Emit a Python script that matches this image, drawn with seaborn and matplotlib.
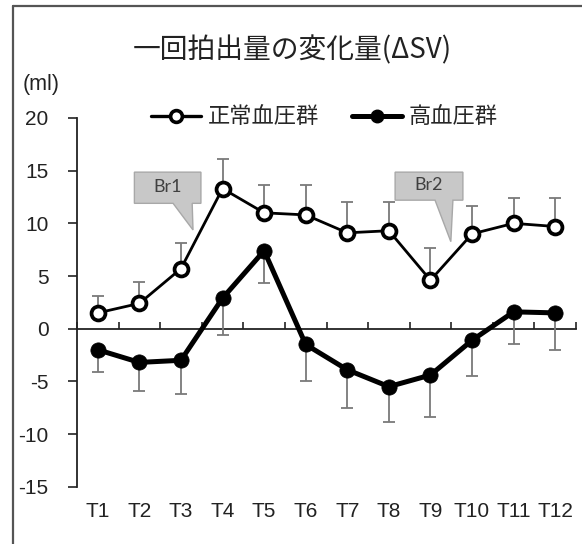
import numpy as np
import pandas as pd
import seaborn as sns
import matplotlib
matplotlib.use("Agg")
import matplotlib.pyplot as plt
from matplotlib.patches import Polygon
from matplotlib.lines import Line2D

# ---- data ----
categories = ['T1', 'T2', 'T3', 'T4', 'T5', 'T6', 'T7', 'T8', 'T9', 'T10', 'T11', 'T12']
normal_mean = [1.5, 2.4, 5.7, 13.3, 11.0, 10.8, 9.1, 9.3, 4.6, 9.0, 10.0, 9.7]
normal_sd = [1.6, 2.0, 2.4, 2.8, 2.6, 2.8, 2.9, 2.7, 3.1, 2.6, 2.4, 2.7]
high_mean = [-2.0, -3.2, -3.0, 2.9, 7.4, -1.5, -3.9, -5.5, -4.4, -1.1, 1.6, 1.5]
high_sd = [2.1, 2.7, 3.2, 3.5, 3.1, 3.5, 3.6, 3.4, 4.0, 3.4, 3.1, 3.5]
group_names = ['正常血圧群', '高血圧群']
y_ticks = [20, 15, 10, 5, 0, -5, -10, -15]
title = '一回拍出量の変化量(ΔSV)'
unit_label = '(ml)'
callout_labels = ['Br1', 'Br2']

sns.set_theme(style='white')
plt.rcParams['font.family'] = ['Liberation Sans', 'Noto Sans CJK JP', 'DejaVu Sans']
CJK = ['Noto Sans CJK JP', 'DejaVu Sans']

pos = np.arange(len(categories))
df = pd.DataFrame({
    'pos': np.concatenate([pos, pos]),
    'value': normal_mean + high_mean,
    'group': [group_names[0]] * len(pos) + [group_names[1]] * len(pos),
})

fig = plt.figure(figsize=(5.82, 5.44), dpi=100)
ax = fig.add_axes([0.1323, 0.1053, 0.8574, 0.6778])

err_color = '#7a7a7a'
# error bars (normal: upward only; hypertensive: downward only)
ax.errorbar(pos, normal_mean, yerr=[np.zeros(len(pos)), normal_sd], fmt='none',
            ecolor=err_color, elinewidth=1.3, capsize=4.5, capthick=1.3, zorder=2)
ax.errorbar(pos, high_mean, yerr=[high_sd, np.zeros(len(pos))], fmt='none',
            ecolor=err_color, elinewidth=1.3, capsize=4.5, capthick=1.3, zorder=2)

sns.lineplot(data=df[df['group'] == group_names[0]], x='pos', y='value', ax=ax,
             color='black', lw=2.0, marker='o', markersize=10, mfc='white',
             mec='black', mew=2.7, errorbar=None, legend=False, zorder=4)
sns.lineplot(data=df[df['group'] == group_names[1]], x='pos', y='value', ax=ax,
             color='black', lw=3.6, marker='o', markersize=11, mfc='black',
             mec='black', mew=0.5, errorbar=None, legend=False, zorder=4)

ax.set_xlim(-0.5, len(categories) - 0.5)
ax.set_ylim(-15, 20)
ax.set_yticks(y_ticks)
ax.set_yticklabels([str(v) for v in y_ticks], fontsize=15)
ax.set_xticks(pos)
ax.set_xticklabels(categories, fontsize=15)
ax.set_xlabel('')
ax.set_ylabel('')
for s in ['top', 'right', 'bottom']:
    ax.spines[s].set_visible(False)
ax.spines['left'].set_color('#222222')
ax.spines['left'].set_linewidth(1.3)
ax.tick_params(axis='x', length=0, pad=11, colors='#222222')
ax.tick_params(axis='y', direction='out', length=6.5, width=1.2, pad=14,
               colors='#222222', left=True)

# zero line with category-boundary ticks pointing up
sec = ax.secondary_xaxis(15 / 35)
sec.set_xticks(np.arange(-0.5, len(categories), 1.0))
sec.tick_params(axis='x', direction='in', length=5, width=1.2, color='#222222',
                labelbottom=False, labeltop=False, top=False, bottom=True)
for s in sec.spines.values():
    s.set_color('#222222')
    s.set_linewidth(1.3)

# callouts
callouts = [
    ([(0.88, 14.86), (2.48, 14.86), (2.48, 11.9), (2.27, 11.9), (2.29, 9.37),
      (1.81, 11.9), (0.88, 11.9)], (1.68, 13.45)),
    ([(7.15, 14.86), (8.78, 14.86), (8.78, 12.2), (8.54, 12.2), (8.49, 8.26),
      (8.11, 12.2), (7.15, 12.2)], (7.965, 13.6)),
]
for (pts, tpos), lab in zip(callouts, callout_labels):
    ax.add_patch(Polygon(pts, closed=True, facecolor='#c8c8c8', edgecolor='#a8a8a8',
                         lw=1.0, zorder=5))
    ax.text(tpos[0], tpos[1], lab, ha='center', va='center', fontsize=13,
            color='#404040', family=['Lato', 'DejaVu Sans'], zorder=6)

# legend
handles = [
    Line2D([], [], color='black', lw=2.4, marker='o', markersize=8.5, mfc='white',
           mec='black', mew=2.6),
    Line2D([], [], color='black', lw=3.6, marker='o', markersize=9, mfc='black',
           mec='black'),
]
fig.legend(handles, group_names, loc='center', bbox_to_anchor=(0.557, 0.785),
           ncol=2, frameon=False, prop={'family': CJK, 'size': 16},
           handlelength=2.25, handletextpad=0.3, columnspacing=1.5)

# title and unit
fig.text(0.502, 0.908, title, ha='center', va='center', fontsize=20,
         family=CJK, color='#222222')
fig.text(0.0704, 0.844, unit_label, ha='center', va='center', fontsize=15.5,
         color='#222222')

# outer frame (top and left edges visible)
fig.add_artist(Line2D([13 / 582, 1.0], [1 - 6 / 544, 1 - 6 / 544],
                      transform=fig.transFigure, color='#555555', lw=1.6))
fig.add_artist(Line2D([13 / 582, 13 / 582], [1 - 6 / 544, 0.0],
                      transform=fig.transFigure, color='#555555', lw=1.6))

fig.savefig('out.png', dpi=100)
